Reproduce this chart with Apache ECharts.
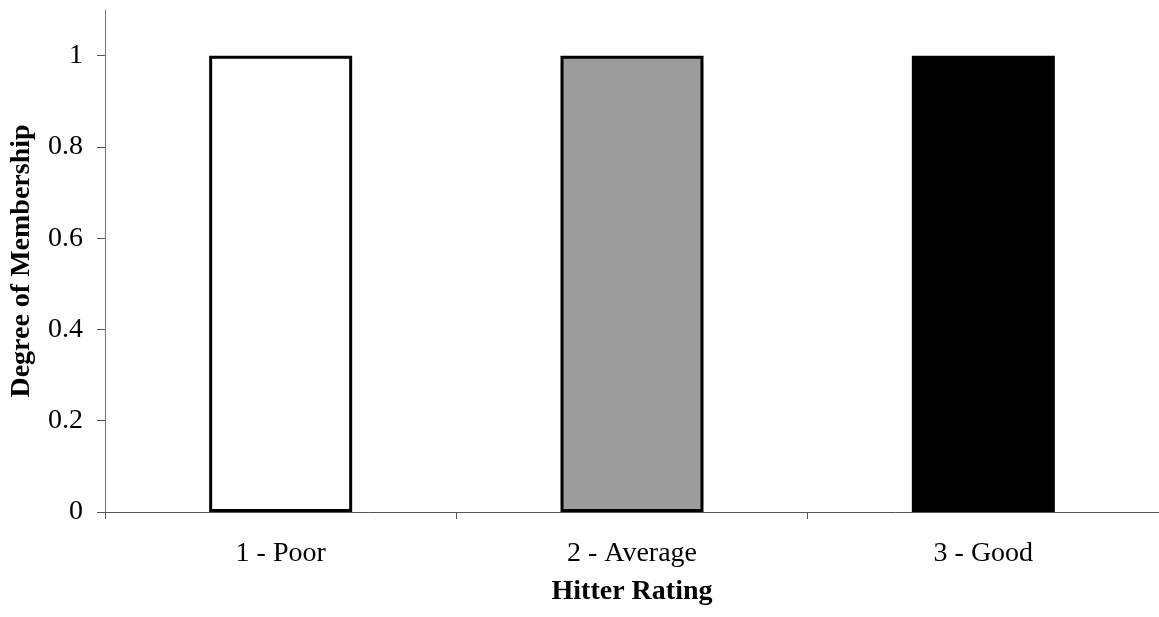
<!DOCTYPE html>
<html>
<head>
<meta charset="utf-8">
<script src="https://cdn.jsdelivr.net/npm/echarts@6/dist/echarts.min.js"></script>
<style>
html,body{margin:0;padding:0;background:#fff;}
#chart{width:1159px;height:617px;}
</style>
</head>
<body>
<div id="chart"></div>
<script>
const categories = ['1 - Poor', '2 - Average', '3 - Good'];
const membership = [1, 1, 1];
const yTicks = [0, 0.2, 0.4, 0.6, 0.8, 1];

const barFills = ['#ffffff', '#9c9c9c', '#000000'];

const chart = echarts.init(document.getElementById('chart'));
const font = '"Liberation Serif", "Times New Roman", serif';

chart.setOption({
  animation: false,
  backgroundColor: '#ffffff',
  grid: { left: 105, top: 10, right: -3.5, bottom: 105, containLabel: false },
  xAxis: {
    type: 'category',
    data: categories,
    name: 'Hitter Rating',
    nameLocation: 'middle',
    nameGap: 66,
    nameTextStyle: { fontFamily: font, fontSize: 28, fontWeight: 'bold', color: '#000' },
    axisLine: { lineStyle: { color: '#555', width: 1 } },
    axisTick: { show: true, length: 7, lineStyle: { color: '#555' } },
    axisLabel: { fontFamily: font, fontSize: 28, color: '#000', margin: 28 },
    splitLine: { show: false }
  },
  yAxis: {
    type: 'value',
    min: 0,
    max: 1.1,
    name: 'Degree of Membership',
    nameLocation: 'middle',
    nameGap: 69,
    nameRotate: 90,
    nameTextStyle: { fontFamily: font, fontSize: 28, fontWeight: 'bold', color: '#000' },
    axisLine: { show: true, lineStyle: { color: '#777', width: 1 } },
    axisTick: { show: true, length: 8, customValues: yTicks, lineStyle: { color: '#555' } },
    axisLabel: {
      fontFamily: font, fontSize: 28, color: '#000', margin: 22,
      customValues: yTicks,
      formatter: v => String(Math.round(v * 10) / 10)
    },
    splitLine: { show: false }
  },
  series: [{
    type: 'bar',
    barWidth: 143,
    data: membership.map((v, i) => ({
      value: v,
      itemStyle: { color: barFills[i], borderColor: '#000', borderWidth: 3 }
    }))
  }]
});
</script>
</body>
</html>
